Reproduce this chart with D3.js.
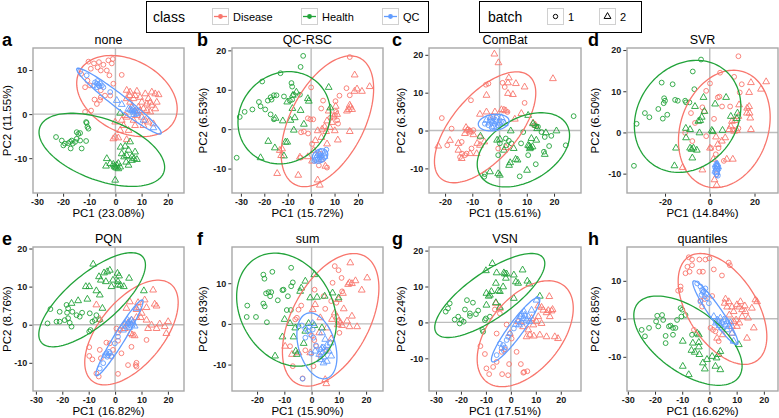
<!DOCTYPE html>
<html><head><meta charset="utf-8">
<script src="https://cdn.jsdelivr.net/npm/d3@7/dist/d3.min.js"></script>
<style>
body{margin:0;background:#fff}
svg{display:block}
text{font-family:"Liberation Sans",Arial,Helvetica,sans-serif}
</style>
</head><body>
<svg id="chart" width="779" height="418"></svg>
<script>
// ---------------- DATA ----------------
const classes = ["Disease", "Health", "QC"];
const batches = ["1", "2"];
const methods = ["none", "QC-RSC", "ComBat", "SVR", "PQN", "sum", "VSN", "quantiles"];
const panelLetters = ["a", "b", "c", "d", "e", "f", "g", "h"];
const pc1Var = ["23.08%", "15.72%", "15.61%", "14.84%", "16.82%", "15.90%", "17.51%", "16.62%"];
const pc2Var = ["11.55%", "6.53%", "6.36%", "6.50%", "8.76%", "8.93%", "9.24%", "8.85%"];

// axis ranges and ticks per panel
const none_xdom = [-31.5, 26.2], none_ydom = [-17.9, 15.0];
const qcrsc_xdom = [-33.8, 30.7], qcrsc_ydom = [-16.2, 20.6];
const combat_xdom = [-25.9, 29.9], combat_ydom = [-16.5, 21.8];
const svr_xdom = [-37.0, 30.5], svr_ydom = [-14.7, 20.5];
const pqn_xdom = [-31.1, 26.1], pqn_ydom = [-17.4, 20.4];
const sum_xdom = [-29.2, 26.2], sum_ydom = [-16.5, 18.9];
const vsn_xdom = [-32.8, 28.1], vsn_ydom = [-19.1, 21.0];
const quant_xdom = [-30.3, 25.2], quant_ydom = [-19.0, 18.9];

const ticks_x6 = [-30, -20, -10, 0, 10, 20];
const ticks_x5 = [-20, -10, 0, 10, 20];
const ticks_x3 = [-20, 0, 20];
const ticks_y3 = [-10, 0, 10];
const ticks_y4 = [-10, 0, 10, 20];

// ellipses: [cx, cy, halfWidthX, halfHeightY, xOffsetOfTopPoint] in class order Disease, Health, QC
const none_ell = [[4.4, 4.1, 19.2, 9.2, -6.0], [-5.2, -8.1, 24.0, 8.3, -11.5], [1.35, 2.95, 16.15, 7.47, -15.6]];
const qcrsc_ell = [[6.95, 2.0, 19.75, 16.6, 9.8], [-11.5, 2.9, 19.75, 11.7, 2.0], [3.8, -6.8, 3.3, 1.8, 0.8]];
const combat_ell = [[-5.3, 0.85, 18.6, 14.65, 11.5], [8.75, -5.1, 16.95, 9.8, 6.6], [-2.15, 2.1, 5.65, 2.2, 1.0]];
const svr_ell = [[6.5, 0.85, 20.5, 14.25, 4.1], [-9.9, 3.9, 23.8, 13.6, 4.1], [3.1, -9.0, 1.2, 1.9, 0.1]];
const pqn_ell = [[6.2, -2.05, 17.7, 13.75, 10.1], [-8.7, 6.55, 20.2, 12.35, 14.9], [1.65, -3.45, 8.95, 9.95, 8.6]];
const sum_ell = [[7.0, 1.0, 17.7, 16.3, 8.5], [-9.2, 3.5, 18.3, 13.9, -4.2], [1.95, -5.4, 7.35, 8.1, -2.5]];
const vsn_ell = [[5.75, -3.15, 19.25, 14.75, 9.25], [-8.45, 7.5, 22.05, 11.7, 16.75], [1.9, -2.0, 9.7, 9.0, 9.0]];
const quant_ell = [[4.8, 2.6, 16.3, 14.6, -8.1], [-7.9, -5.75, 19.9, 11.75, -11.3], [2.2, 1.6, 8.3, 8.4, -7.8]];

// ---- a: none ----
const none_dis_1 = [[-10.3,11.9],[-8.2,11.5],[-6.3,11.8],[-4.6,11.2],[-2.7,12.2],[-1.0,12.5],[-1.4,11.5],[-6.8,10.6],[-9.4,10.3],[-5.6,9.9],[-3.3,9.9],[-2.3,8.8],[2.4,8.9],[-13.1,9.1],[-11.6,6.1],[-10.7,7.6],[-9.7,6.5],[-5.6,5.4],[-5.6,3.8],[-5.9,3.2],[-4.0,4.2],[-2.0,4.2],[-8.0,3.3],[-7.1,2.3],[-11.6,0.5],[-9.3,0.8],[-0.8,6.9]];
const none_dis_2 = [[4.3,5.4],[5.6,5.0],[8.2,5.2],[4.3,3.5],[5.6,2.7],[7.5,4.2],[9.4,3.8],[11.4,4.6],[13.9,5.0],[15.2,4.6],[16.5,4.4],[12.6,3.5],[10.1,2.7],[12.0,2.3],[13.9,2.0],[15.8,2.7],[15.2,1.2],[12.0,0.8],[13.3,0.5],[9.4,0.8],[8.2,-0.3],[10.1,-0.7],[11.4,-1.4],[12.6,-1.8],[14.5,-2.2],[10.7,-2.6],[7.5,-2.6],[6.9,-1.4],[4.3,-0.7],[2.4,-1.4],[-0.1,-1.8],[3.1,-2.6],[5.0,-3.7],[1.8,-3.7],[-0.1,-5.2],[-0.8,-5.6],[1.1,-5.4],[4.3,-5.8],[3.7,-0.3],[6.3,1.6],[8.8,1.6],[10.7,1.2],[6.9,3.5],[5.4,4.2],[13.3,2.7]];
const none_hea_1 = [[-22.7,-5.2],[-20.5,-6.0],[-19.9,-7.1],[-19.3,-6.7],[-18.0,-6.6],[-17.3,-6.3],[-16.7,-6.0],[-16.3,-6.7],[-15.4,-6.3],[-14.8,-5.6],[-14.2,-4.5],[-13.5,-4.3],[-11.2,-1.8],[-10.7,-2.9],[-10.3,-3.3],[-13.5,-6.0],[-11.2,-6.1],[-12.9,-7.8],[-11.0,-2.0],[-17.1,-7.8],[-14.8,-4.1]];
const none_hea_2 = [[-3.3,-10.1],[-2.0,-11.2],[-0.1,-12.0],[0.5,-11.6],[1.1,-12.4],[1.8,-12.0],[-0.1,-15.0],[2.0,-7.5],[3.7,-7.3],[5.0,-8.2],[4.3,-9.4],[6.3,-9.7],[6.3,-10.5],[7.1,-10.1],[7.5,-8.6],[8.2,-10.3],[4.1,-10.9],[2.4,-9.0],[3.3,-9.7],[5.0,-11.6],[-3.6,-11.8],[1.1,-11.2],[-0.8,-11.4],[5.6,-6.3],[1.8,0.2],[-0.4,-11.8],[0.3,-12.2]];
const none_qc_1 = [[-7.8,7.2],[-7.1,6.9],[-6.5,6.6],[-5.9,7.0],[-5.2,6.5],[-7.1,6.1],[-8.2,6.5],[-4.6,6.1],[-6.1,6.3],[-6.9,7.5],[-13.5,9.7],[-11.0,8.8],[-2.0,5.0]];
const none_qc_2 = [[6.3,0.8],[6.9,0.5],[7.5,0.7],[8.2,0.1],[5.6,1.0],[6.6,1.2],[8.4,0.5],[5.0,1.2],[7.1,-0.1],[0.5,3.1],[2.4,2.2],[10.7,-1.4],[14.5,-3.1]];

// ---- b: QC-RSC ----
const qcrsc_dis_1 = [[16.5,18.3],[15.1,10.4],[16.5,8.6],[12.1,8.5],[10.4,7.1],[5.1,7.25],[4.3,5.25],[0,10.6],[-1.4,2.75],[-0.3,2.5],[0.9,2.5],[-1.3,-1.1],[-3.1,-0.6],[-4.3,-0.8],[-4.5,-7.25],[4.0,-6.25],[6.8,-9.75],[3.3,-9.2],[11.1,2.25],[10.1,3.6],[10.7,4.4],[8.2,2.9],[0.4,-3.75],[11.5,1.4]];
const qcrsc_dis_2 = [[18.6,13.75],[18.5,9.6],[21.7,9.6],[25.0,10.8],[19.6,10.2],[16.5,6.1],[16.8,5.6],[16.1,5.0],[17.5,5.0],[15.3,4.6],[10.5,5.8],[11.1,3.75],[9.7,3.1],[8.9,1.7],[6.8,2.1],[5.8,0.6],[8.0,0.4],[6.4,-0.6],[4.7,0],[2.8,-0.4],[4.4,-2.1],[1.8,-2.9],[10.1,-0.4],[16.5,-0.6],[11.4,-2.75],[6.8,-3.75],[1.1,-5.4],[-1.4,-7.0],[-4.8,-7.1],[-12.4,-5.0],[-12.8,-6.7],[-14.5,-11.25],[-5.5,-11.7],[2.8,-12.9],[3.7,-14.2],[6.1,-9.4],[4.3,-7.75],[-13.4,-5.4],[0.4,-8.1],[7.5,4.6]];
const qcrsc_hea_1 = [[-3.4,18.6],[-4.5,15.8],[-13.1,14.2],[-20.9,12.1],[-8.4,11.7],[-8.1,10.8],[-14.8,8.6],[-15.9,8.6],[-17.3,8.1],[-16.9,7.5],[-18.5,7.25],[-22.3,6.9],[-21.6,5.8],[-19.6,5.0],[-25.1,5.0],[-28.4,4.4],[-30.5,3.1],[-17.3,3.75],[-11.6,8.3],[-8.1,7.5],[-9.1,7.25],[-7.4,8.75],[-31.8,-7.25],[-4.8,8.75],[-15.9,2.5]];
const qcrsc_hea_2 = [[7.5,10.6],[-1.0,7.1],[-6.3,9.4],[-7.8,8.6],[-10.2,6.9],[-8.0,5.25],[-4.5,4.75],[-7.0,2.9],[-15.2,2.75],[-12.1,2.1],[-8.8,2.25],[-7.4,-0.25],[-11.0,-3.3],[-10.2,-3.3],[-15.5,-4.75],[-18.3,-3.1],[-11.6,-6.8],[-21.6,-7.25],[8.2,5.4],[-3.1,1.25],[-1.4,7.75]];
const qcrsc_qc_1 = [[6.5,-5.2],[1.4,-8.1],[4.7,-6.7],[3.7,-7.1]];
const qcrsc_qc_2 = [[2.6,-6.7],[3.3,-6.25],[4.0,-6.7],[4.7,-7.25],[2.8,-7.5],[5.4,-6.25],[2.3,-7.1],[4.0,-5.8],[5.7,-6.9],[3.4,-7.75]];

// ---- c: ComBat ----
const combat_dis_1 = [[-21.2,3.3],[-17.6,0.5],[-19.2,-3.9],[-13.9,-3.0],[-10.3,-4.75],[-10.5,8.0],[-5.0,12.1],[-4.1,12.4],[1.1,12.6],[1.9,11.5],[9.2,7.3],[-7.2,-1.7],[-12.1,-6.1],[-14.5,-7.0],[-13.8,-6.1],[-12.7,-6.5],[2.9,4.9],[-0.5,-4.75],[-2.6,3.8],[-9.6,0.1],[-10.8,-0.1],[-11.5,0.3]];
const combat_dis_2 = [[-1.9,20.2],[-0.4,17.9],[3.4,13.9],[3.1,12.6],[6.0,12.4],[9.2,11.5],[3.1,9.8],[4.9,9.5],[-4.8,9.3],[0.7,5.5],[1.6,5.4],[2.3,5.2],[-1.7,4.9],[-4.8,4.9],[-7.2,4.3],[8.0,4.5],[5.6,3.0],[-12.3,0.8],[-11.8,0.1],[-10.8,-0.4],[-12.7,-0.8],[-9.6,-1.1],[-18.2,-2.6],[-22.5,-4.1],[-15.1,-5.2],[-5.6,-3.0],[-7.2,-3.9],[-8.4,-6.1],[-13.9,-7.4],[-10.8,-6.1],[19.6,13.7],[12.3,2.0],[13.2,1.4],[2.3,-4.5],[-15.1,-3.4],[-8.2,-3.4]];
const combat_hea_1 = [[27.2,3.8],[19.0,-1.4],[16.6,-1.7],[15.4,-0.4],[12.7,1.4],[8.7,-0.4],[7.9,-3.4],[2.3,-2.1],[3.4,-2.7],[4.4,-3.4],[2.5,-3.9],[-0.5,-6.5],[0.1,-3.4],[-5.4,-11.5],[-5.6,-12.2],[7.4,-12.1],[13.3,-8.9],[16.3,-5.6],[18.2,-4.1],[14.1,1.0],[24.3,-3.9],[10.5,-6.5],[13.5,1.1]];
const combat_hea_2 = [[10.5,4.0],[12.3,1.8],[13.8,0.5],[17.0,-0.6],[20.9,-0.1],[4.1,-0.1],[-0.9,-2.55],[0.1,-2.3],[10.5,-3.9],[10.9,-4.1],[11.4,-4.5],[12.1,-4.3],[11.1,-4.8],[13.5,-2.55],[11.7,-2.1],[5.2,-4.75],[5.9,-7.6],[6.6,-7.8],[3.5,-9.2],[3.9,-8.5],[10.1,-10.5],[16.6,-6.3],[-0.5,-11.4],[-3.5,-10.9],[0.1,-11.8],[-7.0,-1.5],[1.6,-5.2]];
const combat_qc_1 = [[-3.5,2.7],[-2.3,3.2],[-1.1,3.4],[0.1,2.7],[-4.1,1.4],[-1.7,1.8],[-0.5,1.4],[-2.9,0.8],[1.3,2.3],[-5.4,1.8]];
const combat_qc_2 = [[-3.8,2.0],[-2.6,2.3],[-1.3,2.55],[-0.1,2.0],[-2.1,1.1],[0.7,3.4],[-0.9,0.8],[-4.8,2.7],[1.9,1.8],[-3.3,3.4]];

// ---- d: SVR ----
const svr_dis_1 = [[12.8,18.5],[4.6,14.5],[10.9,13.5],[14.3,11.7],[0.1,11.9],[3.6,8.5],[4.3,8.7],[5.5,6.3],[9.1,6.3],[-1.6,10.1],[-8.4,4.7],[-6.6,2.3],[-3.3,6.1],[-2.5,5.1],[13.4,9.7],[1.9,3.3],[-7.8,-2.1],[-1.6,-0.9],[0.6,-3.8],[3.9,-3.8],[2.7,-5.3],[-11.0,-0.1],[3.1,-10.1],[6.3,-6.9],[10.3,0.7],[12.8,1.0]];
const svr_dis_2 = [[18.4,12.1],[25.2,12.3],[22.9,10.5],[17.6,9.7],[17.6,6.3],[16.7,5.9],[16.6,4.7],[17.8,4.7],[18.1,3.5],[13.1,6.7],[12.8,3.9],[11.3,2.9],[9.9,2.7],[9.4,1.5],[8.7,0.7],[10.9,0.3],[6.9,-1.3],[2.8,-1.1],[5.4,-2.1],[3.6,-2.9],[0.1,-3.8],[1.6,-6.5],[7.6,-6.5],[10.3,-6.5],[-3.3,-9.1],[-12.1,-8.5],[2.1,-11.5],[3.1,-12.8],[18.4,0.7],[12.1,0.5]];
const svr_hea_1 = [[-3.9,17.7],[-7.6,14.8],[-21.5,12.1],[-16.6,11.7],[-20.4,8.3],[-20.0,7.7],[-15.5,7.9],[-14.3,7.7],[-10.6,7.3],[-9.1,7.3],[-6.9,10.5],[-20.6,7.1],[-23.0,5.7],[-29.0,4.7],[-27.0,3.7],[-21.0,3.35],[-19.0,4.3],[-32.7,2.1],[-33.9,-8.1],[-11.0,7.7]];
const svr_hea_2 = [[-2.8,8.5],[2.4,6.9],[7.3,8.5],[12.4,4.7],[-3.6,3.7],[-4.3,2.9],[-5.1,2.7],[-2.4,5.1],[-10.7,1.0],[-8.8,0.7],[-4.6,-0.1],[0.9,0.5],[1.3,0.2],[5.7,0.5],[-15.1,-3.8],[-8.8,-3.8],[-8.1,-4.1],[-7.3,-3.8],[-5.8,-4.3],[-7.8,-6.2],[-15.8,-8.1],[-10.6,-1.3],[12.1,3.35],[9.4,3.9],[-6.6,6.3]];
const svr_qc_1 = [[3.1,-8.1],[2.4,-8.5],[3.9,-8.9],[3.6,-10.5]];
const svr_qc_2 = [[2.7,-7.8],[3.3,-8.3],[2.8,-8.9],[3.7,-8.3],[2.5,-9.4],[3.4,-7.7],[3.1,-9.7]];

// ---- e: PQN ----
const pqn_dis_1 = [[-9.8,-5.9],[-9.8,-8.2],[-8.6,-9.1],[-5.4,-8.8],[-2.0,-4.9],[-3.3,-4.7],[1.1,-2.1],[0.5,-1.0],[1.1,-4.2],[-0.8,-6.6],[4.9,-10.6],[8.1,-10.0],[7.8,-10.6],[6.2,-5.8],[11.9,-4.0],[1.1,-12.9],[-6.2,-13.6],[-7.1,-12.8],[-5.8,-6.6],[2.4,-7.5],[-1.4,-8.4],[8.1,-11.0],[1.8,-1.4]];
const pqn_dis_2 = [[-7.1,5.2],[4.3,4.3],[5.6,6.0],[8.7,5.8],[9.1,4.5],[11.9,4.5],[14.4,9.1],[15.7,4.9],[15.0,5.4],[11.2,6.5],[10.1,3.0],[9.7,1.9],[11.9,1.2],[13.8,-0.1],[15.7,-1.0],[16.9,0.2],[18.8,-0.5],[19.4,-2.3],[12.5,-1.0],[8.1,1.9],[6.2,1.2],[5.8,-2.3],[6.6,-2.7],[7.4,-2.9],[3.7,-1.0],[3.0,-0.35],[4.9,0.5],[-5.8,1.4],[8.1,4.0],[20.1,0.8]];
const pqn_hea_1 = [[-24.5,4.1],[-18.4,5.2],[-17.8,4.3],[-21.0,3.4],[-18.2,3.15],[-16.2,3.4],[-12.5,3.15],[-9.6,3.0],[-25.6,0.35],[-21.0,0.8],[-19.1,1.2],[-17.8,1.7],[-17.2,0.5],[-16.5,-0.5],[-13.4,2.1],[-7.1,2.5],[-7.7,1.2],[-8.6,0.8],[-9.3,-1.4],[-9.8,-1.8],[-14.6,2.5],[-22.2,0.8],[-5.8,1.2]];
const pqn_hea_2 = [[-8.3,15.9],[-4.2,13.6],[-3.0,13.9],[-2.0,14.3],[-6.1,12.6],[-5.4,11.7],[-3.5,11.3],[0.9,13.5],[1.5,12.8],[1.1,11.3],[-0.8,11.7],[-9.8,10.0],[-11.1,10.0],[-7.1,8.9],[-10.5,6.7],[-5.8,7.8],[1.1,10.4],[2.0,10.4],[3.3,10.0],[5.3,12.2],[10.9,8.9],[-4.8,4.3],[-14.0,6.3],[-16.5,5.6],[-1.4,10.0]];
const pqn_qc_1 = [[-3.3,-7.5],[-2.7,-8.0],[-2.0,-7.5],[-3.0,-8.4],[-3.9,-8.0],[-2.3,-7.1],[-1.4,-8.2],[-4.5,-10.1],[-5.8,-11.5],[-0.1,-4.9],[1.1,-3.15]];
const pqn_qc_2 = [[4.9,0.35],[5.6,0.8],[6.2,-0.1],[4.3,-0.35],[6.8,0.5],[3.7,0.2],[5.3,-0.7],[6.2,1.2],[7.4,-0.35],[3.0,-1.4],[4.7,1.2],[8.1,4.3]];

// ---- f: sum ----
const sum_dis_1 = [[8.5,14.2],[9.9,13.2],[11.0,11.3],[7.7,10.1],[4.4,6.8],[1.1,8.4],[-4.8,3.5],[-3.8,4.5],[5.0,3.7],[7.2,5.6],[9.1,5.2],[11.2,8.0],[0.1,-2.9],[1.0,-4.0],[-2.3,-6.5],[-6.9,-10.4],[-3.3,-13.4],[0.7,-10.4],[3.2,-7.9],[5.6,-6.5],[1.7,-5.5],[10.2,-2.2],[-6.0,1.1],[-7.9,-5.5],[-5.4,1.5]];
const sum_dis_2 = [[14.2,15.0],[16.1,10.6],[20.4,11.3],[18.4,8.3],[13.4,9.7],[13.9,10.1],[14.8,9.9],[11.5,7.5],[9.9,6.0],[11.8,3.7],[9.3,1.7],[9.9,0.7],[9.6,-0.2],[10.6,0.25],[11.2,-0.4],[13.0,0.7],[13.9,-0.7],[16.7,-0.7],[14.8,1.9],[7.5,1.1],[5.6,-1.0],[7.2,-3.7],[2.8,-2.2],[3.2,1.5],[0.4,3.5],[-9.7,-5.5],[-7.2,-7.5],[-4.8,-7.1],[5.0,-13.7],[5.4,-14.7],[-0.5,-7.1],[8.5,2.7],[1.3,4.75]];
const sum_hea_1 = [[-7.5,13.8],[-14.4,12.8],[-17.7,12.1],[-17.3,11.1],[-16.7,7.5],[-15.8,7.8],[-14.8,7.8],[-15.2,6.8],[-17.7,5.0],[-17.2,4.3],[-23.6,4.5],[-23.8,1.7],[-20.4,1.7],[-16.4,0.4],[-12.4,5.8],[-10.7,8.3],[-10.3,8.4],[-8.7,6.8],[-9.1,3.4],[-7.6,3.4],[-4.8,-0.6],[-7.5,9.25],[-6.9,10.2]];
const sum_hea_2 = [[1.0,12.1],[-2.3,10.5],[-3.8,8.8],[-4.2,8.0],[-0.5,6.4],[2.0,6.55],[4.8,6.8],[9.9,6.4],[7.7,7.6],[-9.9,1.1],[-7.9,0.1],[-6.0,-1.0],[-6.6,-3.2],[-10.7,-3.2],[-5.8,-6.7],[-5.4,-7.5],[-13.4,-7.9],[-2.9,-4.8],[1.0,-0.4],[-2.3,-1.8],[3.8,-1.0],[-1.1,0.1]];
const sum_qc_1 = [[-2.3,-1.2],[-0.9,-0.7],[-1.3,-1.8],[0.4,-1.4],[-3.6,-0.4],[-0.5,-2.6],[0.7,-3.4],[1.6,-5.3],[3.2,-6.3],[4.4,-5.7],[-3.3,-13.5],[-0.1,-7.3],[5.0,-6.7],[-2.3,-3.4]];
const sum_qc_2 = [[3.8,-5.9],[5.6,-5.3],[6.3,-6.7],[6.9,-4.7],[4.4,-8.1],[3.2,-8.8],[5.6,-9.2],[2.8,-7.5],[4.0,-7.1],[7.2,-7.9],[4.4,-9.6],[1.3,-6.7],[5.0,-3.8],[3.8,-2.2],[0.4,0.1]];

// ---- g: VSN ----
const vsn_dis_1 = [[-12.2,-6.6],[-10.4,-8.8],[-5.7,-11.0],[-7.1,-12.4],[-8.7,-14.4],[-9.8,-12.8],[-3.7,-8.2],[-2.4,-7.5],[-0.7,-11.6],[-3.5,-14.4],[-1.1,-14.7],[4.0,-11.6],[5.0,-14.0],[6.6,-13.6],[0.3,-4.5],[-4.4,2.5],[-6.4,3.6],[-5.7,-3.1],[-1.7,-0.6],[5.3,-13.8],[2.3,-8.2]];
const vsn_dis_2 = [[-6.0,5.3],[-4.4,3.9],[15.4,7.2],[12.3,4.2],[13.0,3.4],[14.3,2.7],[16.3,3.2],[16.7,3.6],[15.6,1.6],[11.0,1.6],[8.3,1.1],[10.3,0.2],[12.3,-0.3],[9.0,-0.7],[7.0,-2.1],[7.6,-3.5],[9.2,-3.8],[11.6,-3.5],[14.3,-4.0],[17.6,-4.0],[18.9,-4.5],[6.3,-4.0],[4.9,-1.2],[2.9,0.2],[-0.4,-3.1],[11.0,4.6],[15.0,3.3]];
const vsn_hea_1 = [[-24.5,5.3],[-25.2,3.9],[-26.1,3.0],[-21.1,1.6],[-17.6,6.2],[-15.2,5.5],[-18.4,3.6],[-16.4,2.5],[-19.8,0.65],[-18.9,0.2],[-16.4,1.8],[-13.1,3.3],[-10.0,1.1],[-10.4,0.65],[-8.4,1.6],[-11.1,-2.6],[-11.4,-2.1],[-22.5,0.8],[-20.5,-0.3],[-14.0,2.3]];
const vsn_hea_2 = [[-7.4,16.4],[-10.0,14.4],[-5.7,13.8],[-2.8,13.8],[-2.4,13.5],[-1.7,13.5],[1.2,13.2],[4.7,14.6],[2.0,11.3],[2.9,10.9],[6.6,11.5],[-2.0,12.3],[-6.0,10.9],[-5.1,8.8],[-4.4,8.6],[-7.8,8.6],[-9.8,8.1],[-8.9,7.3],[-3.1,9.9],[1.2,6.7],[7.4,10.7],[11.6,7.3],[-4.4,4.2],[-6.0,5.5],[-9.8,4.8],[-8.4,7.6]];
const vsn_qc_1 = [[-4.4,-5.9],[-3.1,-6.3],[-2.4,-7.0],[-3.7,-7.2],[-1.7,-4.9],[-0.4,-3.1],[1.2,-1.7],[-5.7,-9.1],[-1.1,-4.0],[-2.8,-7.9]];
const vsn_qc_2 = [[2.9,0.65],[3.9,1.6],[4.9,1.1],[5.6,2.0],[4.3,-0.1],[6.3,0.65],[7.0,1.6],[7.4,0.2],[3.3,-0.7],[5.3,3.0],[8.3,3.4],[10.3,6.2],[2.0,-0.5],[4.3,2.3]];

// ---- h: quantiles ----
const quant_dis_1 = [[-7.6,16.2],[-6.4,14.1],[-3.7,15.6],[-1.5,15.6],[0,15.9],[-7.3,12.4],[-3.7,12.4],[-2.4,12.4],[-8.8,12.0],[-8.1,13.7],[-6.4,15.6],[1.6,13.0],[4.6,11.4],[7.1,14.8],[7.5,14.1],[-10.6,8.5],[-10.6,7.6],[1.0,6.0],[-3.3,4.8],[-1.7,5.2],[-2.7,3.2],[-5.7,-2.9],[3.4,-5.9],[2.2,-3.3],[0.4,-2.4],[1.3,-2.9],[-11.5,7.4]];
const quant_dis_2 = [[5.6,4.1],[7.1,4.5],[6.5,3.1],[8.3,3.1],[10.1,3.7],[11.0,3.1],[8.9,1.9],[7.3,1.0],[13.0,3.4],[16.9,5.0],[17.5,4.5],[15.6,2.8],[13.2,1.9],[12.0,0.6],[14.2,0.2],[16.3,-2.4],[10.1,-2.0],[8.3,-2.0],[13.8,-5.1],[8.3,-3.8],[4.9,-4.2],[2.8,-5.1],[9.8,-0.3],[11.0,-1.1],[12.0,2.4],[8.9,-0.7],[5.9,5.2],[11.4,4.5]];
const quant_hea_1 = [[-19.2,0.8],[-17.4,1.0],[-17.0,-0.3],[-19.6,-0.7],[-18.8,-2.0],[-22.2,-2.4],[-24.9,-2.9],[-23.7,-4.6],[-16.1,-4.5],[-14.3,-1.8],[-13.4,-2.4],[-13.4,-4.2],[-10.6,2.8],[-10.0,2.4],[-8.8,1.0],[-10.3,0.6],[-11.9,-0.3],[-12.5,-2.4],[-16.1,-6.4],[-6.4,-4.2],[-14.9,-2.0]];
const quant_hea_2 = [[-9.8,-5.9],[-6.1,-6.4],[-3.9,-6.2],[-4.5,-3.8],[-3.9,-4.2],[-6.6,-8.3],[-5.4,-8.8],[-3.7,-9.4],[-2.4,-11.6],[-1.7,-13.2],[2.2,-12.5],[2.6,-10.3],[3.4,-9.4],[4.0,-8.6],[-9.8,-12.5],[-7.6,-14.7],[4.0,-13.4],[-0.9,-10.7],[1.0,-9.9],[10.8,-6.8],[-3.9,-7.4]];
const quant_qc_1 = [[-4.5,9.3],[-3.3,8.5],[-2.7,7.6],[-2.1,7.2],[-1.2,6.6],[-1.7,5.9],[-2.9,6.3],[-0.9,5.4],[-2.4,7.0],[-1.5,8.0],[-3.3,4.5],[-0.2,4.1]];
const quant_qc_2 = [[2.8,-0.3],[3.4,-0.7],[4.6,-1.1],[5.9,-1.6],[7.1,-2.0],[4.0,0.2],[5.3,-0.3],[6.5,-0.7],[7.7,-1.1],[2.4,-1.1],[4.6,-2.4],[6.5,-2.9],[8.3,-3.8],[1.6,0.6],[8.9,-5.9],[3.7,-1.8]];

// ---------------- ASSEMBLY ----------------
const panelData = [
  {dom:[none_xdom, none_ydom], ticks:[ticks_x6, ticks_y3], ell:none_ell, pts:[[none_dis_1, none_dis_2],[none_hea_1, none_hea_2],[none_qc_1, none_qc_2]]},
  {dom:[qcrsc_xdom, qcrsc_ydom], ticks:[ticks_x6, ticks_y4], ell:qcrsc_ell, pts:[[qcrsc_dis_1, qcrsc_dis_2],[qcrsc_hea_1, qcrsc_hea_2],[qcrsc_qc_1, qcrsc_qc_2]]},
  {dom:[combat_xdom, combat_ydom], ticks:[ticks_x5, ticks_y4], ell:combat_ell, pts:[[combat_dis_1, combat_dis_2],[combat_hea_1, combat_hea_2],[combat_qc_1, combat_qc_2]]},
  {dom:[svr_xdom, svr_ydom], ticks:[ticks_x3, ticks_y4], ell:svr_ell, pts:[[svr_dis_1, svr_dis_2],[svr_hea_1, svr_hea_2],[svr_qc_1, svr_qc_2]]},
  {dom:[pqn_xdom, pqn_ydom], ticks:[ticks_x6, ticks_y4], ell:pqn_ell, pts:[[pqn_dis_1, pqn_dis_2],[pqn_hea_1, pqn_hea_2],[pqn_qc_1, pqn_qc_2]]},
  {dom:[sum_xdom, sum_ydom], ticks:[ticks_x5, ticks_y3], ell:sum_ell, pts:[[sum_dis_1, sum_dis_2],[sum_hea_1, sum_hea_2],[sum_qc_1, sum_qc_2]]},
  {dom:[vsn_xdom, vsn_ydom], ticks:[ticks_x6, ticks_y4], ell:vsn_ell, pts:[[vsn_dis_1, vsn_dis_2],[vsn_hea_1, vsn_hea_2],[vsn_qc_1, vsn_qc_2]]},
  {dom:[quant_xdom, quant_ydom], ticks:[ticks_x6, ticks_y3], ell:quant_ell, pts:[[quant_dis_1, quant_dis_2],[quant_hea_1, quant_hea_2],[quant_qc_1, quant_qc_2]]}
];

// ---------------- LAYOUT & STYLE ----------------
const classColors = ["#F8766D", "#22A33A", "#619CFF"];
const layout = [
  {x0:33, x1:184, y0:48, y1:193, cell:0,   ylab:7},
  {x0:232, x1:383, y0:48, y1:193, cell:195, ylab:203},
  {x0:429, x1:581, y0:48, y1:193, cell:390, ylab:401},
  {x0:627, x1:778, y0:48, y1:193, cell:586, ylab:595},
  {x0:33, x1:184, y0:247, y1:391, cell:0,   ylab:7},
  {x0:232, x1:383, y0:247, y1:391, cell:195, ylab:203},
  {x0:429, x1:581, y0:247, y1:391, cell:390, ylab:401},
  {x0:627, x1:778, y0:247, y1:391, cell:586, ylab:595}
];

const svg = d3.select("#chart");
svg.append("rect").attr("width", 779).attr("height", 418).attr("fill", "#fff");

const triSym = d3.symbol().type(d3.symbolTriangle).size(20);

// ---------------- LEGENDS (drawn first) ----------------
const leg = svg.append("g");
leg.append("rect").attr("x", 146.5).attr("y", 1.5).attr("width", 282).attr("height", 31)
  .attr("fill", "#fff").attr("stroke", "#000").attr("stroke-width", 1);
leg.append("text").attr("x", 153).attr("y", 22).attr("font-size", 14).text("class");
const classKeyX = [212, 301, 382];
classes.forEach((c, i) => {
  const kx = classKeyX[i];
  leg.append("rect").attr("x", kx + 0.5).attr("y", 8.5).attr("width", 16).attr("height", 16)
    .attr("fill", "#fff").attr("stroke", "#d0d0d0").attr("stroke-width", 1);
  leg.append("line").attr("x1", kx + 2).attr("x2", kx + 15).attr("y1", 16.5).attr("y2", 16.5)
    .attr("stroke", classColors[i]).attr("stroke-width", 1.3);
  leg.append("circle").attr("cx", kx + 8.5).attr("cy", 16.5).attr("r", 2.4).attr("fill", classColors[i]);
  leg.append("text").attr("x", kx + 21).attr("y", 20.5).attr("font-size", 11).text(c);
});

leg.append("rect").attr("x", 479.5).attr("y", 1.5).attr("width", 162).attr("height", 31)
  .attr("fill", "#fff").attr("stroke", "#000").attr("stroke-width", 1);
leg.append("text").attr("x", 488).attr("y", 22).attr("font-size", 14).text("batch");
const batchKeyX = [547, 599];
batches.forEach((b, i) => {
  const kx = batchKeyX[i];
  leg.append("rect").attr("x", kx + 0.5).attr("y", 8.5).attr("width", 16).attr("height", 16)
    .attr("fill", "#fff").attr("stroke", "#d0d0d0").attr("stroke-width", 1);
  if (i === 0) {
    leg.append("circle").attr("cx", kx + 8.5).attr("cy", 16.5).attr("r", 2.2)
      .attr("fill", "none").attr("stroke", "#000").attr("stroke-width", 1);
  } else {
    leg.append("path").attr("d", triSym).attr("transform", `translate(${kx + 8.5},${16.5})`)
      .attr("fill", "none").attr("stroke", "#000").attr("stroke-width", 1);
  }
  leg.append("text").attr("x", kx + 21).attr("y", 20.5).attr("font-size", 11).text(b);
});

function ellipsePoints(e) {
  const [cx, cy, hx, hy, tx] = e;
  const r = tx / hx, k = Math.sqrt(Math.max(0, 1 - r * r));
  return d3.range(0, 121).map(i => {
    const t = i / 120 * 2 * Math.PI;
    return [cx + hx * Math.cos(t), cy + hy * (r * Math.cos(t) + k * Math.sin(t))];
  });
}

const axesLayer = [];
panelData.forEach((pd, i) => {
  const L = layout[i];
  const x = d3.scaleLinear().domain(pd.dom[0]).range([L.x0, L.x1]);
  const y = d3.scaleLinear().domain(pd.dom[1]).range([L.y1, L.y0]);
  const g = svg.append("g");
  const clipId = "clip" + i;
  g.append("clipPath").attr("id", clipId).append("rect")
    .attr("x", L.x0).attr("y", L.y0).attr("width", L.x1 - L.x0).attr("height", L.y1 - L.y0);

  g.append("rect").attr("x", L.x0).attr("y", L.y0).attr("width", L.x1 - L.x0).attr("height", L.y1 - L.y0)
    .attr("fill", "#fff");
  const inner = g.append("g").attr("clip-path", `url(#${clipId})`);
  inner.append("line").attr("x1", x(0)).attr("x2", x(0)).attr("y1", L.y0).attr("y2", L.y1)
    .attr("stroke", "#bdbdbd").attr("stroke-width", 1.4);
  inner.append("line").attr("x1", L.x0).attr("x2", L.x1).attr("y1", y(0)).attr("y2", y(0))
    .attr("stroke", "#bdbdbd").attr("stroke-width", 1.4);

  pd.pts.forEach((byBatch, ci) => {
    const col = classColors[ci];
    inner.append("g").selectAll("circle").data(byBatch[0]).join("circle")
      .attr("cx", d => x(d[0])).attr("cy", d => y(d[1])).attr("r", 2.4)
      .attr("fill", "none").attr("stroke", col).attr("stroke-width", 0.9);
    inner.append("g").selectAll("path").data(byBatch[1]).join("path")
      .attr("d", triSym)
      .attr("transform", d => `translate(${x(d[0])},${y(d[1])})`)
      .attr("fill", "none").attr("stroke", col).attr("stroke-width", 0.9);
  });

  const line = d3.line().x(d => x(d[0])).y(d => y(d[1])).curve(d3.curveLinearClosed);
  pd.ell.forEach((e, ci) => {
    inner.append("path").attr("d", line(ellipsePoints(e)))
      .attr("fill", "none").attr("stroke", classColors[ci]).attr("stroke-width", 1.3);
  });

  g.append("rect").attr("x", L.x0).attr("y", L.y0).attr("width", L.x1 - L.x0).attr("height", L.y1 - L.y0)
    .attr("fill", "none").attr("stroke", "#a8a8a8").attr("stroke-width", 1.4);

  const cx = (L.x0 + L.x1) / 2;
  g.append("text").attr("x", cx).attr("y", L.y0 - 4).attr("text-anchor", "middle")
    .attr("font-size", 12.5).attr("fill", "#000").text(methods[i]);
  g.append("text").attr("x", L.cell + 2).attr("y", L.y0 - 2).attr("font-size", 18)
    .attr("font-weight", "bold").attr("fill", "#000").text(panelLetters[i]);
  g.append("text").attr("x", cx).attr("y", L.y1 + 24).attr("text-anchor", "middle")
    .attr("font-size", 11.5).attr("fill", "#000").text(`PC1 (${pc1Var[i]})`);
  g.append("text").attr("transform", `translate(${L.ylab + 4},${(L.y0 + L.y1) / 2}) rotate(-90)`)
    .attr("text-anchor", "middle").attr("font-size", 11.5).attr("fill", "#000").text(`PC2 (${pc2Var[i]})`);
  axesLayer.push({x, y, L, pd});
});

// axes in a final layer so tick labels are never covered
const axG = svg.append("g");
axesLayer.forEach(({x, y, L, pd}) => {
  const xa = axG.append("g").attr("transform", `translate(0,${L.y1 + 0.7})`)
    .call(d3.axisBottom(x).tickValues(pd.ticks[0]).tickSize(3).tickPadding(2).tickFormat(d => String(d)));
  const ya = axG.append("g").attr("transform", `translate(${L.x0 - 0.7},0)`)
    .call(d3.axisLeft(y).tickValues(pd.ticks[1]).tickSize(3).tickPadding(2).tickFormat(d => String(d)));
  [xa, ya].forEach(a => {
    a.select(".domain").remove();
    a.selectAll(".tick line").attr("stroke", "#333").attr("stroke-width", 1);
    a.selectAll(".tick text").attr("fill", "#1a1a1a").attr("font-size", 9).attr("font-weight", "bold")
      .attr("font-family", '"Liberation Sans", Arial, sans-serif');
  });
});
</script>
</body></html>
